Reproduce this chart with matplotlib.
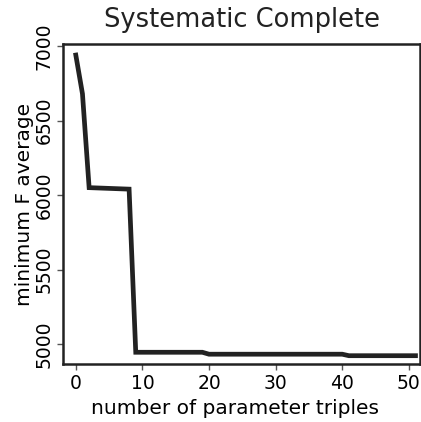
import numpy as np
import matplotlib
matplotlib.use("Agg")
import matplotlib.pyplot as plt

# running minimum of the F average vs number of parameter triples
n_triples = [0, 1, 2, 8, 9, 19, 20, 40, 41, 51]
min_f_avg = [6940, 6680, 6050, 6040, 4945, 4945, 4932, 4932, 4922, 4922]

fig = plt.figure(figsize=(4.21, 4.22), dpi=100)
ax = fig.add_axes([0.15, 0.137, 0.848, 0.759])

ax.plot(n_triples, min_f_avg, color='#222222', lw=3.4, solid_joinstyle='miter')

ax.set_xlim(-1.9, 51.7)
ax.set_ylim(4865, 7015)
ax.set_xticks([0, 10, 20, 30, 40, 50])
ax.set_yticks([5000, 5500, 6000, 6500, 7000])
for lab in ax.get_yticklabels():
    lab.set_rotation(90)
    lab.set_va('center')
ax.tick_params(labelsize=13.5, width=1, length=4, color='#555555', pad=3)
for s in ax.spines.values():
    s.set_linewidth(1.8)
    s.set_color('#222222')

ax.set_xlabel('number of parameter triples', fontsize=14.5)
ax.xaxis.set_label_coords(0.48, -0.11)
ax.set_ylabel('minimum F average', fontsize=14.5, labelpad=0)
ax.set_title('Systematic Complete', fontsize=18.5, pad=12, color='#222222')

fig.savefig('out.png', dpi=100)
